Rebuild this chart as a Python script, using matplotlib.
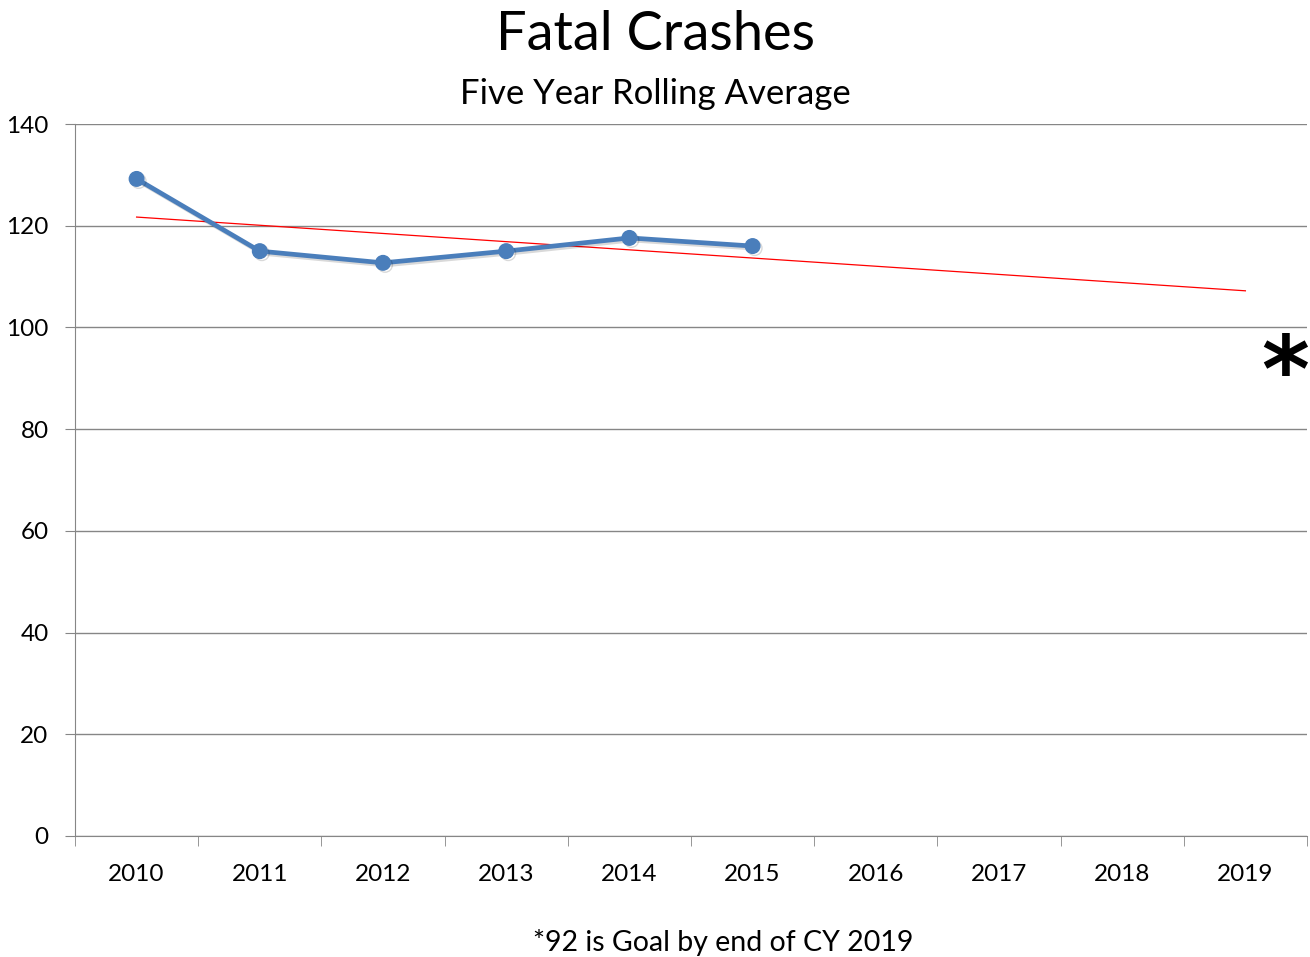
import numpy as np
import matplotlib.pyplot as plt
import matplotlib.patheffects as pe

plt.rcParams['font.family'] = ['Lato', 'DejaVu Sans']

# data
years = ['2010', '2011', '2012', '2013', '2014', '2015', '2016', '2017', '2018', '2019']
rolling_avg = [129.2, 115.0, 112.7, 115.0, 117.6, 116.0]
trend_ends = [121.7, 107.2]   # linear trendline at 2010 and 2019
goal_2019 = 92

fig = plt.figure(figsize=(13.1, 9.57), dpi=100)
ax = fig.add_axes([75/1310, 1-836/957, (1307-75)/1310, (836-124)/957])

x = np.arange(len(years))
ax.plot(x[:len(rolling_avg)], rolling_avg, color='#4A7EBB', lw=3.4, marker='o', ms=10.5,
        solid_joinstyle='round', zorder=3,
        path_effects=[pe.SimpleLineShadow(offset=(1.5, -1.5), shadow_color='k', alpha=0.15), pe.Normal()])
ax.plot([0, len(years)-1], trend_ends, color='#FF0000', lw=0.9, zorder=2)

# goal marker, nudged so the glyph sits where the original one is
ax.text(9.32, goal_2019 - 1.5, '*', fontsize=66, fontweight='bold', ha='center', va='center',
        family='DejaVu Sans', clip_on=False)

ax.set_xlim(-0.5, len(years)-0.5)
ax.set_ylim(0, 140)
ax.set_yticks(np.arange(0, 141, 20))
ax.set_xticks(x)
ax.set_xticklabels(years)
ax.set_xticks(np.arange(-0.5, len(years)), minor=True)
ax.grid(axis='y', color='#868686', lw=1)
ax.set_axisbelow(True)

for s in ['top', 'right']:
    ax.spines[s].set_visible(False)
for s in ['left', 'bottom']:
    ax.spines[s].set_color('#868686')
ax.tick_params(axis='x', which='major', length=0, pad=20, labelsize=17.5)
ax.tick_params(axis='x', which='minor', length=7, color='#868686', direction='out')
ax.tick_params(axis='y', length=7, color='#868686', pad=12, labelsize=17.5)

fig.text(655/1310, 1-35/957, 'Fatal Crashes', ha='center', va='center', fontsize=39)
fig.text(655/1310, 1-94/957, 'Five Year Rolling Average', ha='center', va='center', fontsize=25)
fig.text(723/1310, 1-942/957, '*92 is Goal by end of CY 2019', ha='center', va='center', fontsize=20.5)

fig.savefig('out.png', dpi=100)
